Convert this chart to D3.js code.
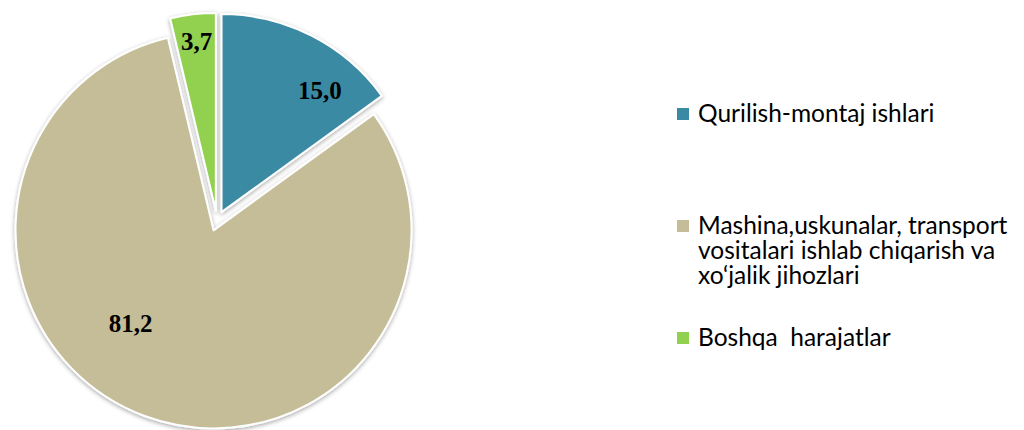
<!DOCTYPE html>
<html>
<head>
<meta charset="utf-8">
<script src="https://cdn.jsdelivr.net/npm/d3@7"></script>
<style>
  body { margin: 0; background: #fff; }
  svg { display: block; }
</style>
</head>
<body>
<div id="chart"></div>
<script>
// data
var categories = ["Qurilish-montaj ishlari", "Mashina,uskunalar, transport vositalari ishlab chiqarish va xo‘jalik jihozlari", "Boshqa  harajatlar"];
var legendLines = [["Qurilish-montaj ishlari"], ["Mashina,uskunalar, transport", "vositalari ishlab chiqarish va", "xo‘jalik jihozlari"], ["Boshqa  harajatlar"]];
var values = [15.0, 81.2, 3.7];
var valueLabels = ["15,0", "81,2", "3,7"];
var colors = ["#3a8aa3", "#c4bd97", "#92d050"];

// where each value label sits: [fraction of slice angle, fraction of radius]
var labelAt = [[0.72, 0.79], [0.573, 0.63], [0.52, 0.865]];

function drawPieChart() {
    var width = 1024, height = 430;
    var cx = 217, cy = 221, radius = 198, explode = 10;

    var svg = d3.select("#chart").append("svg")
        .attr("width", width)
        .attr("height", height);

    var defs = svg.append("defs");
    var filter = defs.append("filter")
        .attr("id", "shadow")
        .attr("x", "-10%").attr("y", "-10%")
        .attr("width", "120%").attr("height", "120%");
    filter.append("feDropShadow")
        .attr("dx", 0).attr("dy", 1.5)
        .attr("stdDeviation", 2)
        .attr("flood-color", "#000")
        .attr("flood-opacity", 0.35);

    var g = svg.append("g")
        .attr("transform", "translate(" + cx + "," + cy + ")");

    var pie = d3.pie().sort(null).value(function(d) { return d; });
    var arcs = pie(values);

    var arc = d3.arc().innerRadius(0).outerRadius(radius);

    function offset(d) {
        var mid = (d.startAngle + d.endAngle) / 2;
        return [explode * Math.sin(mid), -explode * Math.cos(mid)];
    }

    var slices = g.selectAll(".slice")
        .data(arcs)
        .enter().append("g")
        .attr("class", "slice")
        .attr("transform", function(d) { return "translate(" + offset(d) + ")"; });

    slices.append("path")
        .attr("d", arc)
        .attr("fill", function(d, i) { return colors[i]; })
        .attr("stroke", "#fff")
        .attr("stroke-width", 2)
        .attr("stroke-linejoin", "round")
        .attr("filter", "url(#shadow)");

    slices.append("text")
        .attr("transform", function(d, i) {
            var a = d.startAngle + (d.endAngle - d.startAngle) * labelAt[i][0];
            var r = radius * labelAt[i][1];
            return "translate(" + (r * Math.sin(a)) + "," + (-r * Math.cos(a)) + ")";
        })
        .attr("text-anchor", "middle")
        .attr("dy", "0.35em")
        .style("font-family", "'Liberation Serif', 'Times New Roman', serif")
        .style("font-weight", "700")
        .style("font-size", "25px")
        .style("fill", "#000")
        .text(function(d, i) { return valueLabels[i]; });

    // legend
    var legendX = 677;
    var legendY = [108, 220, 332];
    var lineH = 25;

    var legend = svg.selectAll(".legend")
        .data(categories)
        .enter().append("g")
        .attr("class", "legend")
        .attr("transform", function(d, i) { return "translate(" + legendX + "," + legendY[i] + ")"; });

    legend.append("rect")
        .attr("width", 12)
        .attr("height", 12)
        .attr("fill", function(d, i) { return colors[i]; });

    legend.each(function(d, i) {
        var t = d3.select(this).append("text")
            .attr("x", 21)
            .attr("y", 14)
            .style("font-family", "Lato, 'Open Sans', sans-serif")
            .style("font-size", "24.5px")
            .style("white-space", "pre")
            .style("fill", "#000");
        legendLines[i].forEach(function(line, j) {
            t.append("tspan")
                .attr("x", 21)
                .attr("dy", j === 0 ? 0 : lineH)
                .text(line);
        });
    });
}

drawPieChart();
</script>
</body>
</html>
